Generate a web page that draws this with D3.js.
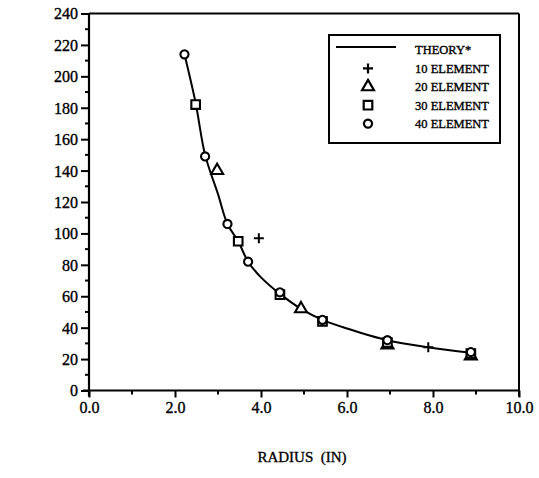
<!DOCTYPE html>
<html>
<head>
<meta charset="utf-8">
<script src="https://cdn.jsdelivr.net/npm/d3@7"></script>
<style>
  html, body { margin: 0; padding: 0; background: #fff; }
</style>
</head>
<body>
<svg id="chart" width="539" height="478"></svg>
<script>
// ---- data ----
const xTicks = [0, 2, 4, 6, 8, 10];
const xTickLabels = ["0.0", "2.0", "4.0", "6.0", "8.0", "10.0"];
const yTicks = [0, 20, 40, 60, 80, 100, 120, 140, 160, 180, 200, 220, 240];

const theoryR = [2.22, 2.48, 2.70, 3.00, 3.22, 3.47, 3.70, 4.00, 4.44, 4.93, 5.43, 6.00, 6.94, 7.89, 8.88];
const theoryV = [214, 183, 150, 125, 106, 95, 82, 72, 61.5, 52, 45, 39.5, 32, 27.5, 24];

const el10R = [3.95, 7.89];
const el10V = [97, 27.5];
const el20R = [2.98, 4.93, 6.94, 8.88];
const el20V = [140, 52, 29, 22];
const el30R = [2.48, 3.47, 4.44, 5.43, 6.94, 8.88];
const el30V = [182, 95, 61, 44, 30.5, 23.5];
const el40R = [2.22, 2.70, 3.22, 3.70, 4.44, 5.43, 6.94, 8.88];
const el40V = [214, 149, 106, 82, 62.5, 45, 32, 24.5];

const legendLabels = ["THEORY*", "10 ELEMENT", "20 ELEMENT", "30 ELEMENT", "40 ELEMENT"];
const xTitle = "RADIUS  (IN)";

// ---- layout ----
const FONT = "'Liberation Serif', 'Times New Roman', Times, 'DejaVu Serif', serif";
const svg = d3.select("#chart");
const pL = 89, pR = 519, pT = 13.5, pB = 390.5;
const x = d3.scaleLinear().domain([0, 10]).range([pL, pR]);
const y = d3.scaleLinear().domain([0, 240]).range([pB, pT]);

const g = svg.append("g");

// frame: top and right
g.append("line").attr("x1", pL).attr("x2", pR).attr("y1", pT).attr("y2", pT)
  .attr("stroke", "#000").attr("stroke-width", 2);
g.append("line").attr("x1", pR).attr("x2", pR).attr("y1", pT).attr("y2", pB + 6)
  .attr("stroke", "#000").attr("stroke-width", 2);

// y axis
const yAxis = d3.axisLeft(y).tickValues(yTicks).tickSize(8).tickFormat(d3.format("d"));
const ya = g.append("g").attr("transform", `translate(${pL},0)`).call(yAxis);
ya.select(".domain").attr("stroke-width", 2.2).attr("d", `M0,${pT}V${pB + 6}`);
ya.selectAll(".tick line").attr("stroke-width", 2);
ya.selectAll(".tick text").attr("font-size", 16).attr("x", -11).attr("dy", "0.34em");
// y minor
const yMinor = d3.range(10, 240, 20);
g.append("g").selectAll("line").data(yMinor).join("line")
  .attr("x1", pL - 4).attr("x2", pL).attr("y1", d => y(d)).attr("y2", d => y(d))
  .attr("stroke", "#000").attr("stroke-width", 2);

// x axis
const xAxis = d3.axisBottom(x).tickValues(xTicks).tickSize(7).tickFormat((d, i) => xTickLabels[i]);
const xa = g.append("g").attr("transform", `translate(0,${pB})`).call(xAxis);
xa.select(".domain").attr("stroke-width", 2.2).attr("d", `M${pL - 6},0H${pR}`);
xa.selectAll(".tick line").attr("stroke-width", 2);
xa.selectAll(".tick text").attr("font-size", 16).attr("y", 11).attr("dy", "0.71em");
const xMinor = d3.range(1, 10, 2);
g.append("g").selectAll("line").data(xMinor).join("line")
  .attr("x1", d => x(d)).attr("x2", d => x(d)).attr("y1", pB).attr("y2", pB + 4)
  .attr("stroke", "#000").attr("stroke-width", 2);
ya.attr("font-family", null); xa.attr("font-family", null);

// x title
g.append("text").attr("x", 302).attr("y", 462).attr("text-anchor", "middle")
  .attr("font-size", 15).attr("xml:space", "preserve").style("white-space", "pre").text(xTitle);

// theory line
const theory = theoryR.map((r, i) => [r, theoryV[i]]);
g.append("path").datum(theory)
  .attr("fill", "none").attr("stroke", "#000").attr("stroke-width", 2)
  .attr("d", d3.line().x(d => x(d[0])).y(d => y(d[1])).curve(d3.curveCatmullRom.alpha(0.5)));

// markers
const sym = {
  tri: d3.symbol().type(d3.symbolTriangle).size(62),
  sq: d3.symbol().type(d3.symbolSquare).size(74),
  circ: d3.symbol().type(d3.symbolCircle).size(52)
};
function drawSym(rs, vs, gen) {
  g.append("g").selectAll("path").data(rs.map((r, i) => [r, vs[i]])).join("path")
    .attr("transform", d => `translate(${x(d[0])},${y(d[1])})`)
    .attr("d", gen()).attr("fill", "#fff").attr("stroke", "#000").attr("stroke-width", 2.1);
}
drawSym(el20R, el20V, sym.tri);
drawSym(el30R, el30V, sym.sq);
drawSym(el40R, el40V, sym.circ);
// plus
const plusG = g.append("g").selectAll("g").data(el10R.map((r, i) => [r, el10V[i]])).join("g")
  .attr("transform", d => `translate(${x(d[0])},${y(d[1])})`);
plusG.append("path").attr("d", "M-5,0H5M0,-5V5").attr("stroke", "#000").attr("stroke-width", 2);

// legend
const lg = g.append("g");
lg.append("rect").attr("x", 329).attr("y", 35).attr("width", 171).attr("height", 108)
  .attr("fill", "#fff").attr("stroke", "#000").attr("stroke-width", 2);
const rowY = legendLabels.map((_, i) => 50 + i * 18.4);
lg.selectAll("text").data(legendLabels).join("text")
  .attr("x", 415).attr("y", (d, i) => rowY[i]).attr("dy", "0.35em")
  .attr("font-size", 12.5).text(d => d);
lg.append("line").attr("x1", 336).attr("x2", 396).attr("y1", rowY[0] - 3).attr("y2", rowY[0] - 3)
  .attr("stroke", "#000").attr("stroke-width", 2);
lg.append("path").attr("transform", `translate(368,${rowY[1]})`).attr("d", "M-5,0H5M0,-5V5")
  .attr("stroke", "#000").attr("stroke-width", 2.2);
lg.append("path").attr("transform", `translate(368,${rowY[2]})`).attr("d", sym.tri())
  .attr("fill", "#fff").attr("stroke", "#000").attr("stroke-width", 2.2);
lg.append("path").attr("transform", `translate(368,${rowY[3]})`).attr("d", sym.sq())
  .attr("fill", "#fff").attr("stroke", "#000").attr("stroke-width", 2.2);
lg.append("path").attr("transform", `translate(368,${rowY[4]})`).attr("d", sym.circ())
  .attr("fill", "#fff").attr("stroke", "#000").attr("stroke-width", 2.2);

// fonts for all text
svg.selectAll("text").attr("font-family", FONT).style("font-family", FONT)
  .attr("fill", "#000").attr("stroke", "#000").attr("stroke-width", 0.35);
</script>
</body>
</html>
